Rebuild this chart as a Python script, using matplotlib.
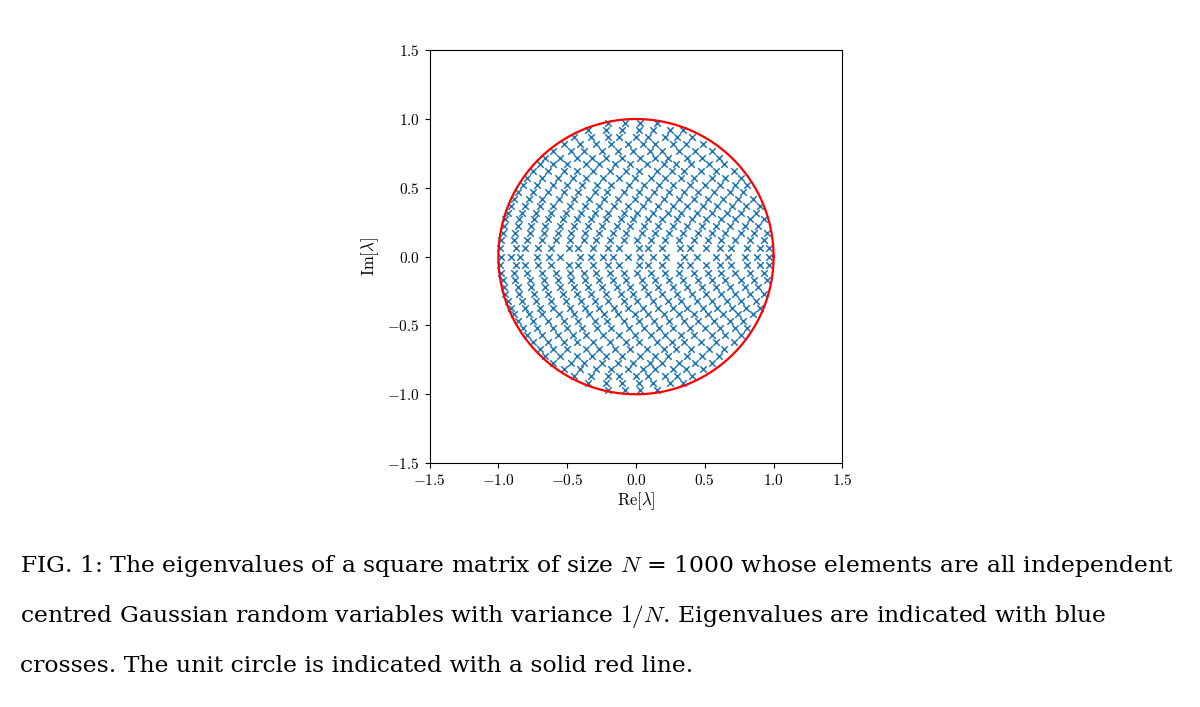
import numpy as np
import matplotlib
matplotlib.use("Agg")
import matplotlib.pyplot as plt

plt.rcParams['mathtext.fontset'] = 'cm'
plt.rcParams['font.family'] = ['DejaVu Serif']

rows = {
    0.97: [-0.2, -0.08, 0.03, 0.15],
    0.92: [-0.35, -0.22, -0.1, 0.02, 0.12, 0.25, 0.34],
    0.87: [-0.45, -0.33, -0.2, -0.12, 0.0, 0.09, 0.21, 0.3, 0.41],
    0.82: [-0.52, -0.41, -0.29, -0.18, -0.06, 0.05, 0.14, 0.27, 0.36, 0.49],
    0.77: [-0.6, -0.47, -0.38, -0.25, -0.13, -0.02, 0.1, 0.19, 0.31, 0.43, 0.55],
    0.72: [-0.66, -0.55, -0.43, -0.32, -0.22, -0.1, 0.03, 0.14, 0.23, 0.37, 0.48, 0.6],
    0.67: [-0.7, -0.6, -0.5, -0.36, -0.27, -0.15, -0.04, 0.08, 0.2, 0.29, 0.4, 0.53, 0.64],
    0.62: [-0.75, -0.64, -0.52, -0.43, -0.31, -0.19, -0.07, 0.02, 0.15, 0.26, 0.35, 0.47, 0.58, 0.71],
    0.57: [-0.79, -0.68, -0.57, -0.46, -0.36, -0.24, -0.12, -0.01, 0.11, 0.21, 0.33, 0.42, 0.55, 0.65, 0.76],
    0.52: [-0.82, -0.72, -0.6, -0.5, -0.39, -0.28, -0.18, -0.05, 0.06, 0.17, 0.27, 0.39, 0.5, 0.61, 0.72, 0.81],
    0.47: [-0.86, -0.75, -0.64, -0.52, -0.42, -0.3, -0.21, -0.09, 0.02, 0.13, 0.24, 0.35, 0.45, 0.57, 0.68, 0.78],
    0.42: [-0.89, -0.78, -0.68, -0.56, -0.45, -0.34, -0.23, -0.13, -0.01, 0.09, 0.2, 0.31, 0.42, 0.52, 0.63, 0.74, 0.85],
    0.37: [-0.91, -0.81, -0.7, -0.6, -0.48, -0.37, -0.27, -0.16, -0.06, 0.05, 0.16, 0.27, 0.37, 0.49, 0.59, 0.7, 0.8, 0.9],
    0.32: [-0.93, -0.83, -0.73, -0.62, -0.51, -0.4, -0.3, -0.2, -0.09, 0.01, 0.12, 0.23, 0.33, 0.44, 0.55, 0.66, 0.76, 0.87],
    0.27: [-0.95, -0.85, -0.74, -0.64, -0.53, -0.43, -0.33, -0.22, -0.11, -0.02, 0.09, 0.19, 0.3, 0.41, 0.51, 0.62, 0.72, 0.83, 0.93],
    0.22: [-0.96, -0.86, -0.76, -0.66, -0.55, -0.45, -0.35, -0.25, -0.14, -0.04, 0.06, 0.16, 0.27, 0.37, 0.48, 0.58, 0.68, 0.79, 0.89],
    0.17: [-0.97, -0.88, -0.77, -0.67, -0.57, -0.47, -0.37, -0.27, -0.17, -0.07, 0.04, 0.14, 0.24, 0.34, 0.45, 0.55, 0.65, 0.76, 0.86, 0.95],
    0.12: [-0.98, -0.89, -0.79, -0.68, -0.58, -0.48, -0.38, -0.29, -0.19, -0.09, 0.01, 0.11, 0.21, 0.31, 0.42, 0.52, 0.62, 0.72, 0.83, 0.93],
    0.06: [-0.99, -0.87, -0.81, -0.71, -0.62, -0.49, -0.42, -0.31, -0.2, -0.12, 0.02, 0.09, 0.19, 0.32, 0.39, 0.51, 0.61, 0.69, 0.81, 0.9, 0.97],
}
real_eigs = [-0.98, -0.91, -0.84, -0.72, -0.63, -0.55, -0.41, -0.33, -0.24, -0.17, -0.06,
             0.03, 0.12, 0.22, 0.35, 0.44, 0.58, 0.67, 0.79, 0.88, 0.97]

xs, ys = [], []
for y, xl in rows.items():
    for x in xl:
        xs += [x, x]; ys += [y, -y]
xs += real_eigs; ys += [0.0] * len(real_eigs)

fig = plt.figure(figsize=(12, 7.07), dpi=100)
ax = fig.add_axes([0.358, 0.345, 0.344, 0.584])
ax.scatter(xs, ys, marker='x', s=22, linewidths=1.1, color='#1f77b4', zorder=2)
t = np.linspace(0, 2 * np.pi, 400)
ax.plot(np.cos(t), np.sin(t), color='red', lw=1.6, zorder=3)
ax.set_xlim(-1.5, 1.5); ax.set_ylim(-1.5, 1.5)
ticks = [-1.5, -1.0, -0.5, 0.0, 0.5, 1.0, 1.5]
lab = [r'$-1.5$', r'$-1.0$', r'$-0.5$', r'$0.0$', r'$0.5$', r'$1.0$', r'$1.5$']
ax.set_xticks(ticks); ax.set_xticklabels(lab, fontsize=11)
ax.set_yticks(ticks); ax.set_yticklabels(lab, fontsize=11)
ax.set_xlabel(r'$\mathrm{Re}[\lambda]$', fontsize=12, labelpad=2)
ax.set_ylabel(r'$\mathrm{Im}[\lambda]$', fontsize=12, labelpad=4)

cap = [
    r'FIG. 1: The eigenvalues of a square matrix of size $N$ = 1000 whose elements are all independent',
    r'centred Gaussian random variables with variance $1/N$. Eigenvalues are indicated with blue',
    r'crosses. The unit circle is indicated with a solid red line.',
]
for yy, s in zip([566, 617, 666], cap):
    fig.text(20 / 1200, 1 - yy / 707, s, fontsize=16.9, va='center', ha='left')
fig.savefig('out.png', dpi=100)
